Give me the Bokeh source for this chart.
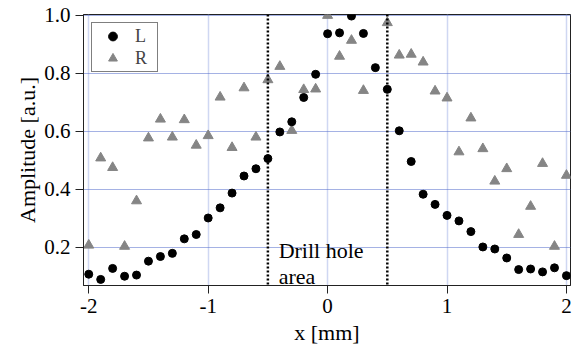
from bokeh.plotting import figure
from bokeh.models import (Range1d, Span, Legend, LegendItem, FixedTicker,
                          NumeralTickFormatter, ColumnDataSource)
from bokeh.core.properties import value
from bokeh.embed import file_html
from bokeh.resources import INLINE

nan = float("nan")

x_mm = [-2.0, -1.9, -1.8, -1.7, -1.6, -1.5, -1.4, -1.3, -1.2, -1.1,
        -1.0, -0.9, -0.8, -0.7, -0.6, -0.5, -0.4, -0.3, -0.2, -0.1,
        0.0, 0.1, 0.2, 0.3, 0.4, 0.5, 0.6, 0.7, 0.8, 0.9,
        1.0, 1.1, 1.2, 1.3, 1.4, 1.5, 1.6, 1.7, 1.8, 1.9, 2.0]

amp_L = [0.107, 0.089, 0.127, 0.100, 0.104, 0.152, 0.168, 0.179, 0.229, 0.244,
         0.301, 0.336, 0.387, 0.446, 0.471, 0.506, 0.598, 0.633, 0.717, 0.797,
         0.937, 0.940, 0.998, 0.938, 0.820, 0.745, 0.602, 0.496, 0.383, 0.348,
         0.310, 0.291, 0.254, 0.201, 0.194, 0.163, 0.123, 0.125, 0.115, 0.129, 0.102]

amp_R = [0.207, 0.508, 0.475, 0.203, 0.360, 0.577, 0.642, 0.580, 0.640, 0.552,
         0.585, 0.718, 0.544, 0.750, 0.580, 0.778, 0.824, 0.603, 0.744, 0.746,
         1.000, 0.859, 0.914, 0.741, nan, 0.975, 0.863, 0.866, 0.839, 0.739,
         0.715, 0.529, 0.646, 0.540, 0.428, 0.471, 0.244, 0.341, 0.489, 0.203, 0.448]

x_ticks = [-2, -1, 0, 1, 2]
y_ticks = [0.2, 0.4, 0.6, 0.8, 1.0]
drill_edges = [-0.5, 0.5]
drill_text = ["Drill hole", "area"]
drill_text_x = [-0.41, -0.41]
drill_text_y = [0.189, 0.0995]

FONT = "Liberation Serif"
X0, X1 = -2.044, 2.034
Y0, Y1 = 0.068, 1.0034

p = figure(width=581, height=351, output_backend="svg", toolbar_location=None,
           x_range=Range1d(X0, X1), y_range=Range1d(Y0, Y1),
           min_border_left=83, min_border_right=11, min_border_top=14,
           min_border_bottom=66, background_fill_color="white",
           border_fill_color="white")

p.outline_line_color = "#222222"
p.outline_line_width = 1

for ax in (p.xaxis[0], p.yaxis[0]):
    ax.axis_line_color = "#222222"
    ax.major_tick_line_color = "#222222"
    ax.major_tick_in = 0
    ax.major_tick_out = 8
    ax.minor_tick_line_color = None
    ax.major_label_text_font = FONT
    ax.major_label_text_font_size = "21px"
    ax.major_label_text_color = "black"
    ax.major_label_standoff = 5
    ax.axis_label_text_font = FONT
    ax.axis_label_text_font_size = "22px"
    ax.axis_label_text_font_style = "normal"
    ax.axis_label_text_color = "black"

p.xaxis.ticker = FixedTicker(ticks=x_ticks)
p.yaxis.ticker = FixedTicker(ticks=y_ticks)
p.xaxis.formatter = NumeralTickFormatter(format="0")
p.yaxis.formatter = NumeralTickFormatter(format="0.0")
p.xaxis.axis_label = "x [mm]"
p.yaxis.axis_label = "Amplitude [a.u.]"
p.xaxis.axis_label_standoff = 4
p.yaxis.axis_label_standoff = 1

p.xgrid.grid_line_color = "#9fb0e6"
p.xgrid.grid_line_dash = "1 1"
p.xgrid.grid_line_width = 1.5
p.ygrid.grid_line_color = "#4a64c8"
p.ygrid.grid_line_dash = "1 1"
p.ygrid.grid_line_width = 1

for loc in drill_edges:
    p.add_layout(Span(location=loc, dimension="height", line_color="black",
                      line_width=2.5, line_dash="2 2"))

p.text(x=drill_text_x, y=drill_text_y, text=drill_text,
       text_font=value(FONT), text_font_size="22px",
       text_color="black", text_baseline="alphabetic")

src = ColumnDataSource(dict(x=x_mm, L=amp_L, R=amp_R))
r_R = p.scatter("x", "R", source=src, marker="triangle", size=10,
                fill_color="#858585", line_color="#858585")
r_L = p.scatter("x", "L", source=src, marker="circle", size=8,
                fill_color="black", line_color="black")

legend = Legend(items=[LegendItem(label="L", renderers=[r_L]),
                       LegendItem(label="R", renderers=[r_R])],
                location="top_left", margin=8, padding=2, spacing=-5,
                glyph_width=37, glyph_height=22, label_height=22,
                label_standoff=4, label_text_font=FONT,
                label_text_font_size="18px", border_line_color="black",
                border_line_width=1, background_fill_color="white",
                background_fill_alpha=1.0)
p.add_layout(legend)

open("out.html", "w").write(file_html(p, INLINE))
